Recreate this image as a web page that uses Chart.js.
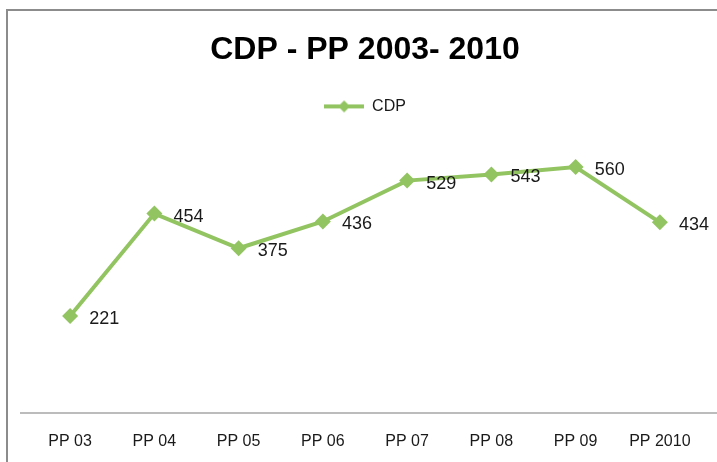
<!DOCTYPE html>
<html>
<head>
<meta charset="utf-8">
<script src="https://cdn.jsdelivr.net/npm/chart.js@4"></script>
<style>
  html, body { margin: 0; padding: 0; background: #fff; }
  #wrap { width: 717px; height: 462px; }
</style>
</head>
<body>
<div id="wrap"><canvas id="myChart" width="717" height="462"></canvas></div>
<script>
const categories = ['PP 03', 'PP 04', 'PP 05', 'PP 06', 'PP 07', 'PP 08', 'PP 09', 'PP 2010']
const cdpValues = [221, 454, 375, 436, 529, 543, 560, 434]
const yRange = [0, 600]

const GREEN = '#93C462'
const FONT = "'Liberation Sans', Arial, sans-serif"

// little line + diamond for the legend, like the Excel one
const legendMark = document.createElement('canvas')
legendMark.width = 40
legendMark.height = 16
const lctx = legendMark.getContext('2d')
lctx.strokeStyle = GREEN
lctx.lineWidth = 4
lctx.beginPath()
lctx.moveTo(0, 8)
lctx.lineTo(40, 8)
lctx.stroke()
lctx.fillStyle = GREEN
lctx.beginPath()
lctx.moveTo(20, 2)
lctx.lineTo(26, 8)
lctx.lineTo(20, 14)
lctx.lineTo(14, 8)
lctx.closePath()
lctx.fill()

const framePlugin = {
  id: 'frame',
  beforeDraw: chart => {
    const ctx = chart.ctx
    ctx.save()
    ctx.fillStyle = '#fff'
    ctx.fillRect(0, 0, chart.width, chart.height)
    ctx.strokeStyle = '#8c8c8c'
    ctx.lineWidth = 2
    ctx.strokeRect(7, 10, chart.width + 20, chart.height + 20)
    ctx.restore()
  },
  beforeDatasetsDraw: chart => {
    const { ctx, chartArea } = chart
    ctx.save()
    ctx.strokeStyle = '#a6a6a6'
    ctx.lineWidth = 1.5
    ctx.beginPath()
    ctx.moveTo(chartArea.left - 8, chartArea.bottom)
    ctx.lineTo(chart.width, chartArea.bottom)
    ctx.stroke()
    ctx.restore()
  }
}

const valueLabels = {
  id: 'valueLabels',
  afterDatasetsDraw: chart => {
    const ctx = chart.ctx
    const meta = chart.getDatasetMeta(0)
    const data = chart.data.datasets[0].data
    ctx.save()
    ctx.font = '18px ' + FONT
    ctx.fillStyle = '#1a1a1a'
    ctx.textAlign = 'left'
    ctx.textBaseline = 'middle'
    meta.data.forEach((pt, i) => {
      ctx.fillText(String(data[i]), pt.x + 19, pt.y + 3)
    })
    ctx.restore()
  }
}

const ctx = document.getElementById('myChart').getContext('2d')
new Chart(ctx, {
  type: 'line',
  data: {
    labels: categories,
    datasets: [{
      label: 'CDP',
      data: cdpValues,
      borderColor: GREEN,
      backgroundColor: GREEN,
      borderWidth: 4,
      pointStyle: 'rectRot',
      pointRadius: 8,
      pointHoverRadius: 8,
      pointBorderWidth: 0,
      tension: 0
    }]
  },
  options: {
    responsive: false,
    animation: false,
    events: [],
    layout: { padding: { top: 0, left: 28, right: 15, bottom: 0 } },
    plugins: {
      title: {
        display: true,
        text: 'CDP - PP 2003- 2010',
        color: '#000',
        font: { family: FONT, size: 32, weight: 'bold' },
        padding: { top: 31, bottom: 19 }
      },
      legend: {
        display: true,
        position: 'top',
        labels: {
          usePointStyle: true,
          pointStyle: legendMark,
          pointStyleWidth: 40,
          color: '#1a1a1a',
          font: { family: FONT, size: 16 },
          padding: 10
        }
      },
      // empty spacer between legend and plot area
      subtitle: {
        display: true,
        text: '',
        weight: 500,
        font: { size: 10 },
        padding: { top: 0, bottom: 13 }
      },
      tooltip: { enabled: false }
    },
    scales: {
      x: {
        offset: true,
        grid: { display: false, drawTicks: false },
        border: { display: false },
        ticks: {
          color: '#1a1a1a',
          font: { family: FONT, size: 16 },
          padding: 19,
          maxRotation: 0,
          autoSkip: false
        },
        afterFit: scale => { scale.height = 49 }
      },
      y: {
        display: false,
        min: yRange[0],
        max: yRange[1]
      }
    }
  },
  plugins: [framePlugin, valueLabels]
})
</script>
</body>
</html>
